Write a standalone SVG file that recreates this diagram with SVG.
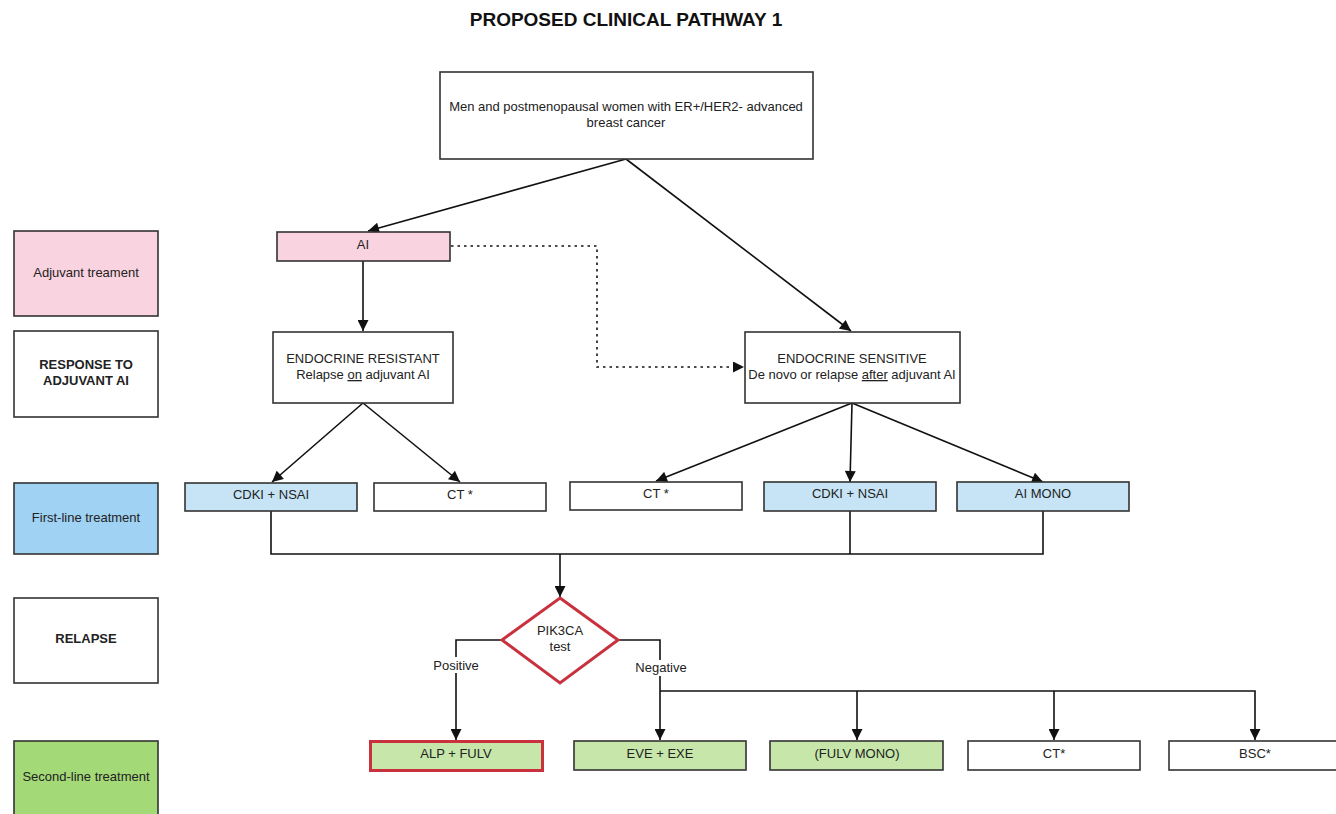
<svg xmlns="http://www.w3.org/2000/svg" width="1336" height="814" viewBox="0 0 1336 814">
<style>
text{font-family:"Liberation Sans",Arial,sans-serif;font-size:13px;fill:#222;text-anchor:middle}
.b{font-weight:bold}
.t{font-size:19px;font-weight:bold;fill:#111}
.n{stroke:#333;stroke-width:1.6}
.w{fill:#fff}
.pk{fill:#f9d3df}
.bl{fill:#c6e4f6}
.blL{fill:#9fd2f3}
.gr{fill:#c6e7a9}
.grL{fill:#a4d978}
.c{fill:none;stroke:#111;stroke-width:1.6}
.d{stroke-dasharray:2.5 4}
</style>
<defs>
<marker id="a2" viewBox="0 0 10 10" refX="10" refY="5" markerWidth="12" markerHeight="11" markerUnits="userSpaceOnUse" orient="auto">
<path d="M0,0 L10,5 L0,10 z" fill="#111"/>
</marker>
</defs>
<rect width="1336" height="814" fill="#fff"/>
<text class="t" x="626" y="26">PROPOSED CLINICAL PATHWAY 1</text>

<g id="connectors">
<path class="c" d="M626,159 L368,231" marker-end="url(#a2)"/>
<path class="c" d="M626,159 L851,331" marker-end="url(#a2)"/>
<path class="c" d="M363,261 L363,331" marker-end="url(#a2)"/>
<path class="c d" d="M451,246 L597,246 L597,367 L744,367" marker-end="url(#a2)"/>
<path class="c" d="M363,403 L272,482" marker-end="url(#a2)"/>
<path class="c" d="M363,403 L460,482" marker-end="url(#a2)"/>
<path class="c" d="M852,403 L656,481" marker-end="url(#a2)"/>
<path class="c" d="M852,403 L850,482" marker-end="url(#a2)"/>
<path class="c" d="M852,403 L1043,482" marker-end="url(#a2)"/>
<path class="c" d="M271,511 L271,554 L1043,554 L1043,511"/>
<path class="c" d="M850,511 L850,554"/>
<path class="c" d="M560,554 L560,597" marker-end="url(#a2)"/>
<path class="c" d="M502,640 L456,640 L456,740" marker-end="url(#a2)"/>
<path class="c" d="M618,640 L660,640 L660,740" marker-end="url(#a2)"/>
<path class="c" d="M660,691 L1255,691 L1255,740" marker-end="url(#a2)"/>
<path class="c" d="M857,691 L857,740" marker-end="url(#a2)"/>
<path class="c" d="M1054,691 L1054,740" marker-end="url(#a2)"/>
<rect x="431" y="657" width="50" height="16" fill="#fff"/>
<text x="456" y="670">Positive</text>
<rect x="634" y="660" width="54" height="16" fill="#fff"/>
<text x="661" y="672">Negative</text>
</g>

<g id="lbl-adjuvant"><rect class="n pk" x="14" y="231" width="144" height="85"/><text x="86" y="277">Adjuvant treament</text></g>
<g id="lbl-response"><rect class="n w" x="14" y="331" width="144" height="86"/><text class="b" x="86" y="369">RESPONSE TO</text><text class="b" x="86" y="385">ADJUVANT AI</text></g>
<g id="lbl-first"><rect class="n blL" x="14" y="483" width="144" height="71"/><text x="86" y="522">First-line treatment</text></g>
<g id="lbl-relapse"><rect class="n w" x="14" y="598" width="144" height="85"/><text class="b" x="86" y="643">RELAPSE</text></g>
<g id="lbl-second"><rect class="n grL" x="14" y="741" width="144" height="80"/><text x="86" y="781">Second-line treatment</text></g>

<g id="n-top"><rect class="n w" x="440" y="72" width="373" height="87"/><text x="626" y="111">Men and postmenopausal women with ER+/HER2- advanced</text><text x="626" y="127">breast cancer</text></g>
<g id="n-ai"><rect class="n pk" x="277" y="232" width="173" height="29"/><text x="363" y="249">AI</text></g>
<g id="n-resistant"><rect class="n w" x="273" y="332" width="180" height="71"/><text x="363" y="363">ENDOCRINE RESISTANT</text><text x="363" y="379">Relapse <tspan text-decoration="underline">on</tspan> adjuvant AI</text></g>
<g id="n-sensitive"><rect class="n w" x="745" y="332" width="215" height="71"/><text x="852" y="363">ENDOCRINE SENSITIVE</text><text x="852" y="379">De novo or relapse <tspan text-decoration="underline">after</tspan> adjuvant AI</text></g>

<g id="n-cdki1"><rect class="n bl" x="185" y="483" width="172" height="28"/><text x="271" y="499">CDKI + NSAI</text></g>
<g id="n-ct1"><rect class="n w" x="374" y="483" width="172" height="28"/><text x="460" y="499">CT *</text></g>
<g id="n-ct2"><rect class="n w" x="570" y="482" width="172" height="28"/><text x="656" y="498">CT *</text></g>
<g id="n-cdki2"><rect class="n bl" x="764" y="482" width="172" height="29"/><text x="850" y="498">CDKI + NSAI</text></g>
<g id="n-aimono"><rect class="n bl" x="957" y="482" width="172" height="29"/><text x="1043" y="498">AI MONO</text></g>

<g id="n-pik3ca"><path d="M560,598 L618,640 L560,683 L502,640 Z" fill="#fff" stroke="#c9313f" stroke-width="3"/><text x="560" y="635">PIK3CA</text><text x="560" y="651">test</text></g>

<g id="n-alp"><rect x="370.5" y="741.5" width="172" height="29" fill="#c6e7a9" stroke="#c9313f" stroke-width="3"/><text x="456" y="758">ALP + FULV</text></g>
<g id="n-eve"><rect class="n gr" x="574" y="741" width="172" height="29"/><text x="660" y="758">EVE + EXE</text></g>
<g id="n-fulv"><rect class="n gr" x="770" y="741" width="173" height="29"/><text x="857" y="758">(FULV MONO)</text></g>
<g id="n-ct3"><rect class="n w" x="968" y="741" width="172" height="29"/><text x="1054" y="758">CT*</text></g>
<g id="n-bsc"><rect class="n w" x="1169" y="741" width="172" height="29"/><text x="1255" y="758">BSC*</text></g>
</svg>
